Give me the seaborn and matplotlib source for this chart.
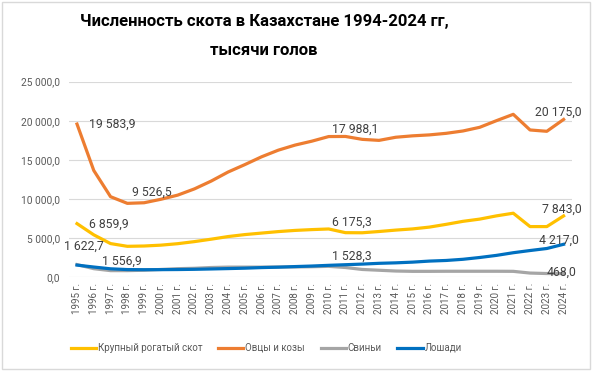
import matplotlib
matplotlib.use("Agg")
import matplotlib.pyplot as plt
import matplotlib.ticker as mticker
from matplotlib.patches import Rectangle
import pandas as pd
import seaborn as sns

# Данные (тыс. голов)
years = list(range(1995, 2025))
year_labels = [f"{y} г." for y in years]

cattle = [6859.9, 5425, 4307, 3958, 3998, 4107, 4294, 4560, 4871, 5204,
          5457, 5650, 5841, 5992, 6095, 6175.3, 5702, 5690, 5851, 6032,
          6184, 6413, 6767, 7151, 7436, 7850, 8190, 6480, 6480, 7843.0]
sheep = [19583.9, 13650, 10300, 9450, 9526.5, 9970, 10500, 11300, 12300, 13450,
         14400, 15400, 16250, 16900, 17400, 17988.1, 18000, 17630, 17500, 17900,
         18080, 18200, 18400, 18700, 19170, 20020, 20830, 18830, 18660, 20175.0]
pigs = [1622.7, 1100, 850, 850, 900, 1000, 1100, 1150, 1250, 1300,
        1300, 1300, 1320, 1320, 1350, 1400, 1250, 1000, 900, 800,
        760, 760, 770, 770, 770, 770, 760, 540, 480, 468.0]
horses = [1556.9, 1311, 1083, 986, 970, 976, 990, 1019, 1064, 1112,
          1164, 1240, 1291, 1370, 1438, 1528.3, 1607, 1686, 1785, 1846,
          1937, 2070, 2150, 2300, 2530, 2800, 3140, 3420, 3680, 4217.0]

series_names = ["Крупный рогатый скот", "Овцы и козы", "Свиньи", "Лошади"]
colors = ["#FFC000", "#ED7D31", "#A5A5A5", "#0070C0"]

df = pd.concat([
    pd.DataFrame({"year": years, "value": vals, "series": name})
    for name, vals in zip(series_names, [cattle, sheep, pigs, horses])
])

# подписи данных: (ряд, год) и смещение подписи в годах / тыс. голов
labels = [
    (sheep, 1995, 2.1, -30),
    (sheep, 1999, 0.46, 1400),
    (sheep, 2010, 1.6, 930),
    (sheep, 2024, -0.3, 900),
    (cattle, 1995, 1.9, -50),
    (cattle, 2010, 1.4, 800),
    (cattle, 2024, -0.1, 850),
    (pigs, 1995, 0.4, 2290),
    (horses, 1995, 2.7, 530),
    (horses, 2010, 1.4, 1100),
    (horses, 2024, -0.25, 550),
    (pigs, 2024, -0.1, 120),
]

plt.rcParams['font.family'] = ['Roboto', 'DejaVu Sans']

fig = plt.figure(figsize=(5.92, 3.71), dpi=100)
ax = fig.add_axes([0.1159, 0.2526, 0.8503, 0.5272])

sns.lineplot(data=df, x="year", y="value", hue="series", palette=colors,
             hue_order=series_names, linewidth=2.3, ax=ax, legend=True)

ax.set_xlim(1994.5, 2024.5)
ax.set_ylim(0, 25000)
ax.set_xticks(years)
ax.set_xticklabels(year_labels, rotation=90, fontsize=7, color="#595959")
ax.yaxis.set_major_locator(mticker.MultipleLocator(5000))
ax.yaxis.set_major_formatter(mticker.FuncFormatter(
    lambda v, p: f"{v:,.1f}".replace(",", " ").replace(".", ",")))
ax.tick_params(axis="y", labelsize=7.3, colors="#595959", length=0, pad=6)
ax.tick_params(axis="x", length=0, pad=4)
ax.grid(axis="y", color="#D9D9D9", linewidth=0.8)
ax.set_axisbelow(True)
for s in ax.spines.values():
    s.set_visible(False)
ax.set_xlabel("")
ax.set_ylabel("")

for vals, yr, dx, dy in labels:
    v = vals[years.index(yr)]
    txt = f"{v:,.1f}".replace(",", " ").replace(".", ",")
    ax.text(yr + dx, v + dy, txt, ha="center", va="center",
            fontsize=8.8, color="#404040")

handles, labs = ax.get_legend_handles_labels()
ax.legend_.remove()
fig.legend(handles, labs, loc="center", bbox_to_anchor=(0.45, 0.062), ncol=4,
           frameon=False, fontsize=7, handlelength=2.6, handletextpad=0.2,
           columnspacing=1.6, labelcolor="#595959")

fig.text(0.446, 0.941, "Численность скота в Казахстане 1994-2024 гг,",
         ha="center", va="center", fontsize=12, fontweight="bold")
fig.text(0.446, 0.865, "тысячи голов", ha="center", va="center",
         fontsize=12, fontweight="bold")

fig.patches.append(Rectangle((0.004, 0.006), 0.992, 0.988, transform=fig.transFigure,
                             fill=False, edgecolor="#D9D9D9", linewidth=1))

fig.savefig("out.png", dpi=100)
